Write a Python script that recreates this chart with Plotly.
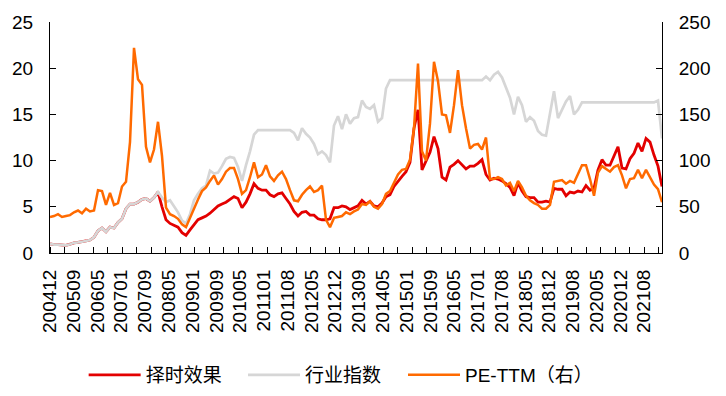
import plotly.graph_objects as go

# ---------------- data ----------------
x_labels = ["200412", "200509", "200605", "200701", "200709", "200805", "200901",
            "200909", "201005", "201101", "201108", "201205", "201212", "201309",
            "201405", "201501", "201509", "201605", "201701", "201708", "201805",
            "201812", "201908", "202005", "202012", "202108"]

# PE-TTM (right axis)
pe_ttm = [39, 40, 42, 39, 40, 41, 44, 46, 43, 48, 45, 46,
          68, 67, 52, 65, 52, 54, 72, 77,
          120, 222, 188, 182, 115, 98, 112, 142, 105, 49,
          42, 40, 37, 31, 28, 38, 50, 58, 67, 71,
          78, 84, 74, 80, 88, 92, 92, 80, 64, 68,
          82, 98, 82, 85, 95, 83, 78, 84, 88, 80,
          68, 57, 56, 63, 68, 72, 66, 68, 73, 36,
          28, 38, 39, 40, 44, 42, 45, 47, 53, 52,
          56, 50, 48, 53, 64, 67, 76, 85, 90, 91,
          101, 135, 205, 110, 100, 140, 207, 186, 150, 149,
          130, 160, 198, 160, 135, 113, 117, 118, 112, 125,
          80, 80, 82, 80, 73, 76, 67, 78, 71, 62,
          57, 54, 52, 48, 48, 52, 77, 78, 79, 75,
          78, 76, 86, 95, 95, 80, 62, 87, 94, 91,
          88, 93, 95, 84, 70, 80, 81, 90, 81, 90,
          82, 74, 69, 55]

# 择时效果 (left axis)
timing = [1.0, 0.9, 0.9, 0.85, 0.83, 0.95, 1.1, 1.15, 1.2, 1.3, 1.4, 1.7,
          2.4, 2.7, 2.3, 2.8, 2.7, 3.3, 3.7, 4.8,
          5.3, 5.3, 5.5, 5.8, 5.9, 5.6, 6.0, 6.6, 5.0, 3.6,
          3.2, 3.0, 2.8, 2.2, 1.9, 2.5, 3.1, 3.6, 3.8, 4.0,
          4.3, 4.7, 5.1, 5.3, 5.5, 5.8, 6.1, 5.9, 4.9, 5.5,
          6.4, 7.5, 7.0, 6.8, 6.8, 6.3, 6.1, 6.4, 6.5, 5.9,
          5.3, 4.5, 4.0, 4.4, 4.5, 4.1, 4.1, 3.7, 3.6, 3.6,
          3.7, 4.9, 4.9, 5.1, 5.0, 4.7, 4.9, 5.1, 5.7, 5.3,
          5.6, 5.1, 5.0, 5.4, 6.1, 6.3, 7.2, 7.8, 8.3, 8.8,
          9.8, 13.5, 15.5, 9.0, 9.9, 10.9, 12.6, 11.3, 8.2, 7.9,
          9.3, 9.6, 10.0, 9.6, 9.1, 9.4, 9.4, 9.7, 10.1, 8.5,
          7.9, 8.1, 8.0, 7.8, 7.5, 7.1, 6.2, 7.6, 6.7, 6.1,
          6.0, 6.0, 5.5, 5.5, 5.6, 5.5, 7.0, 6.9, 6.9, 6.2,
          6.6, 6.5, 6.7, 6.6, 7.3, 6.8, 7.0, 9.0, 10.1, 9.5,
          9.5, 10.5, 11.5, 9.2, 9.1, 10.2, 10.8, 11.9, 11.0, 12.4,
          12.0, 10.6, 9.4, 7.2]

# 行业指数 (left axis)
industry = [1.0, 0.9, 0.9, 0.85, 0.83, 0.95, 1.1, 1.15, 1.2, 1.3, 1.4, 1.7,
            2.4, 2.7, 2.3, 2.8, 2.7, 3.3, 3.7, 4.8,
            5.3, 5.3, 5.5, 5.8, 5.9, 5.6, 6.0, 6.6, 6.0, 5.5,
            5.7, 5.1, 4.4, 3.5, 3.2, 4.2, 5.7, 6.4, 7.0, 7.3,
            8.9, 8.6, 8.7, 9.4, 10.2, 10.4, 10.3, 9.3, 7.8, 9.5,
            11.0, 12.8, 13.3, 13.3, 13.3, 13.3, 13.3, 13.3, 13.3, 13.3,
            13.3, 13.0, 12.2, 13.5, 12.9, 12.5, 11.8, 10.7, 11.0, 10.6,
            9.8, 13.8, 14.8, 13.4, 15.0, 14.0, 14.6, 14.7, 16.5, 15.8,
            15.6, 16.0, 14.2, 14.6, 17.8, 18.7, 18.7, 18.7, 18.7, 18.7,
            18.7, 18.7, 18.7, 18.7, 18.7, 18.7, 18.7, 18.7, 18.7, 18.7,
            18.7, 18.7, 18.7, 18.7, 18.7, 18.7, 18.7, 18.7, 18.7, 19.1,
            18.7, 19.3, 19.6, 19.0, 18.0, 16.8, 15.0, 16.9, 16.0, 14.2,
            14.7, 14.3, 13.2, 12.8, 12.7, 15.0, 17.5, 14.6, 15.6, 16.4,
            17.0, 15.0, 15.5, 16.3, 16.3, 16.3, 16.3, 16.3, 16.3, 16.3,
            16.3, 16.3, 16.3, 16.3, 16.3, 16.3, 16.3, 16.3, 16.3, 16.3,
            16.3, 16.3, 16.5, 12.4]

# ---------------- axis scale (trading-day index) ----------------
TOTAL_DAYS = 4222
LABEL_EVERY = 164
TICK_EVERY = 100
n = len(pe_ttm)
x = [i * TOTAL_DAYS / (n - 1) for i in range(n)]
tickvals = [i * LABEL_EVERY for i in range(len(x_labels))]

RED = "#E30000"
GRAY = "#D6D6D6"
ORANGE = "#FF6A00"
FONT = "Liberation Sans, Arial, Noto Sans CJK SC, sans-serif"

fig = go.Figure()
fig.add_trace(go.Scatter(x=x, y=timing, name="择时效果", mode="lines",
                         line=dict(color=RED, width=2.8), yaxis="y",
                         legend="legend"))
fig.add_trace(go.Scatter(x=x, y=industry, name="行业指数", mode="lines",
                         line=dict(color=GRAY, width=2.7), yaxis="y",
                         legend="legend2"))
fig.add_trace(go.Scatter(x=x, y=pe_ttm, name="PE-TTM（右）", mode="lines",
                         line=dict(color=ORANGE, width=2.5), yaxis="y2",
                         legend="legend3"))


def legend_box(xpos):
    return dict(orientation="h", x=xpos, xanchor="left", y=-0.528,
                yanchor="middle", font=dict(size=19, family=FONT),
                itemwidth=52, bgcolor="rgba(0,0,0,0)")


# the page body adds an 8px margin around the figure
fig.update_layout(
    width=710, height=380,
    margin=dict(l=42, r=56, t=14, b=135, autoexpand=False),
    paper_bgcolor="white", plot_bgcolor="white",
    font=dict(family=FONT, size=19, color="#000"),
    xaxis=dict(range=[0, TOTAL_DAYS], tickvals=tickvals, ticktext=x_labels,
               tickangle=-90, ticks="", showline=True, linecolor="#000",
               linewidth=1, showgrid=False, zeroline=False, automargin=False,
               ticklabelstandoff=8,
               tickfont=dict(size=19),
               minor=dict(ticks="inside", dtick=TICK_EVERY, tick0=0,
                          ticklen=6, tickcolor="#000", showgrid=False)),
    yaxis=dict(range=[0, 25], dtick=5, ticks="inside", ticklen=6,
               tickcolor="#000", showline=True, linecolor="#000",
               showgrid=False, zeroline=False, ticklabelstandoff=12,
               automargin=False, tickfont=dict(size=19)),
    yaxis2=dict(range=[0, 250], dtick=50, ticks="inside", ticklen=6,
                tickcolor="#000", showline=True, linecolor="#000",
                showgrid=False, zeroline=False, overlaying="y", side="right",
                automargin=False, ticklabelstandoff=12,
                tickfont=dict(size=19)),
    legend=legend_box(0.055),
    legend2=legend_box(0.3154),
    legend3=legend_box(0.5768),
    showlegend=True,
)

fig.write_html("out.html")
